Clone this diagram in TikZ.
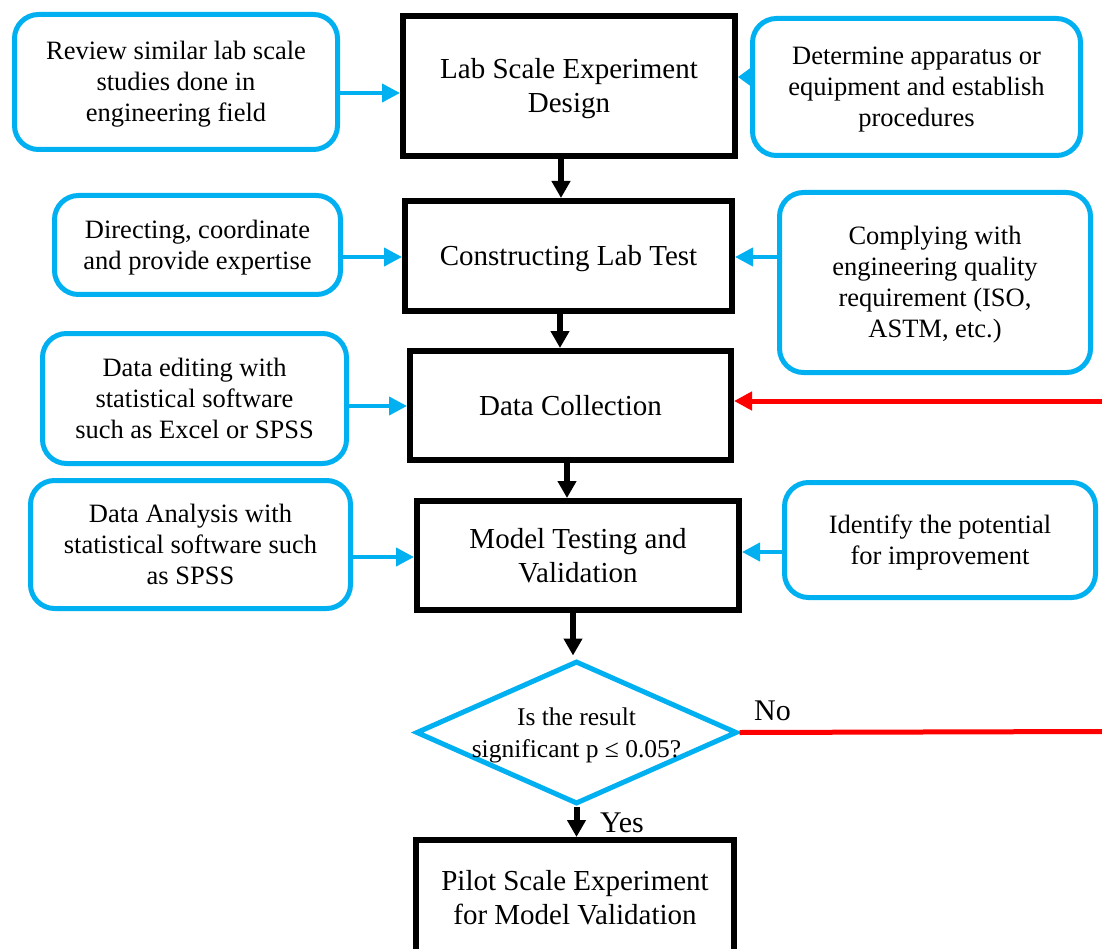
\documentclass[tikz,border=0pt]{standalone}
\usepackage{fontspec}
\setmainfont{Liberation Serif}
\usetikzlibrary{arrows.meta,shapes.geometric}
\definecolor{skyblue}{HTML}{00B0F0}
\definecolor{alertred}{HTML}{FF0000}
% invisible strut spanning the full ascent and descent of a text line
\newcommand\ls{\rule[-0.216em]{0pt}{1.107em}}

\begin{document}
\begin{tikzpicture}[x=1pt,y=-1pt,
  mainbox/.style={draw=black, line width=6pt, inner sep=0pt, align=center,
    font=\fontsize{29}{34}\selectfont},
  sidebox/.style={draw=skyblue, line width=5pt, rounded corners=24pt, inner sep=0pt,
    align=center, font=\fontsize{26.5}{31}\selectfont},
  blackarrow/.style={line width=6pt, -{Triangle[length=17pt,width=18pt]}},
  bluearrow/.style={draw=skyblue, line width=4pt, -{Triangle[length=18pt,width=18pt]}},
  stubarrow/.style={draw=skyblue, line width=4pt, -{Triangle[length=13pt,width=18pt]}},
  redline/.style={draw=alertred, line width=5pt},
  redarrow/.style={redline, -{Triangle[length=18pt,width=18pt]}},
  answer/.style={inner sep=0pt, anchor=base west, font=\fontsize{30}{34}\selectfont},
]
\useasboundingbox (0,0) rectangle (1102,949);
\clip (0,0) rectangle (1102,949);

% main process steps
\node[mainbox, minimum width=332pt, minimum height=140pt] (m1) at (569,86)
  {\ls Lab Scale Experiment\\Design\ls};
\node[mainbox, minimum width=327pt, minimum height=110pt] (m2) at (568.5,256)
  {\ls Constructing Lab Test};
\node[mainbox, minimum width=321pt, minimum height=109pt] (m3) at (570.5,405.5)
  {\ls Data Collection};
\node[mainbox, minimum width=322pt, minimum height=109pt] (m4) at (578,555.5)
  {\ls Model Testing and\\Validation\ls};
\node[diamond, draw=skyblue, line width=5pt, inner sep=0pt,
  minimum width=321pt, minimum height=143pt] (dec) at (576.5,732.5) {};
\node[align=center, inner sep=0pt, font=\fontsize{25.5}{32}\selectfont] (dectext) at (576.5,735)
  {Is the result\\significant p ≤ 0.05?};
\node[mainbox, minimum width=318pt, minimum height=116pt] (pilot) at (575,898)
  {\ls Pilot Scale Experiment\\for Model Validation\ls};

% supporting activities
\node[sidebox, minimum width=323pt, minimum height=135pt] (l1) at (176,82)
  {\ls Review similar lab scale\\studies done in\\engineering field\ls};
\node[sidebox, minimum width=328pt, minimum height=137pt] (r1) at (916.5,87)
  {\ls Determine apparatus or\\equipment and establish\\procedures\ls};
\node[sidebox, minimum width=286pt, minimum height=99pt] (l2) at (197.5,245)
  {\ls Directing, coordinate\\and provide expertise\ls};
\node[sidebox, minimum width=311pt, minimum height=180pt] (r2) at (935,282.5)
  {\ls Complying with\\engineering quality\\requirement (ISO,\\ASTM, etc.)\ls};
\node[sidebox, minimum width=304pt, minimum height=130pt] (l3) at (194.5,398.5)
  {\ls Data editing with\\statistical software\\such as Excel or SPSS\ls};
\node[sidebox, minimum width=320pt, minimum height=128pt] (l4) at (190.5,544.5)
  {\ls Data Analysis with\\statistical software such\\as SPSS\ls};
\node[sidebox, minimum width=311pt, minimum height=115pt] (r4) at (940,540)
  {\ls Identify the potential\\for improvement\ls};

% arrows from the supporting activities
\coordinate (a1) at ([yshift=-11pt]l1.east);
\coordinate (a2) at ([yshift=10pt]r1.west);
\coordinate (a3) at ([yshift=-12pt]l2.east);
\coordinate (a4) at ([yshift=25.5pt]r2.west);
\coordinate (a5) at ([yshift=-7.5pt]l3.east);
\coordinate (a6) at ([yshift=-12.5pt]l4.east);
\coordinate (a7) at ([yshift=-12pt]r4.west);
\draw[bluearrow] (a1) -- (a1 -| m1.west);
\draw[stubarrow] ([xshift=1.5pt]a2) -- (a2 -| m1.east);
\draw[bluearrow] (a3) -- (a3 -| m2.west);
\draw[bluearrow] (a4) -- (a4 -| m2.east);
\draw[bluearrow] (a5) -- (a5 -| m3.west);
\draw[bluearrow] (a6) -- (a6 -| m4.west);
\draw[bluearrow] (a7) -- (a7 -| m4.east);

% main flow
\coordinate (f1) at ([xshift=-8pt]m1.south);
\coordinate (f2) at ([xshift=-8.5pt]m2.south);
\coordinate (f3) at ([xshift=-3.5pt]m3.south);
\coordinate (f4) at ([xshift=-5pt]m4.south);
\coordinate (f5) at (dec.south);
\draw[blackarrow] (f1) -- (f1 |- m2.north);
\draw[blackarrow] (f2) -- (f2 |- m3.north);
\draw[blackarrow] (f3) -- (f3 |- m4.north);
\draw[blackarrow, shorten >=3pt] (f4) -- (f4 |- dec.north);
\draw[blackarrow] (f5) -- (f5 |- pilot.north);

% feedback path
\coordinate (back) at (1102,401);
\coordinate (noend) at (1102,731.5);
\draw[redarrow] (back) -- (back -| m3.east);
\draw[redline] (dec.east) -- (noend);

\node[answer] (no) at (754,720.5) {No};
\node[answer] (yes) at (600,832) {Yes};
\end{tikzpicture}
\end{document}
